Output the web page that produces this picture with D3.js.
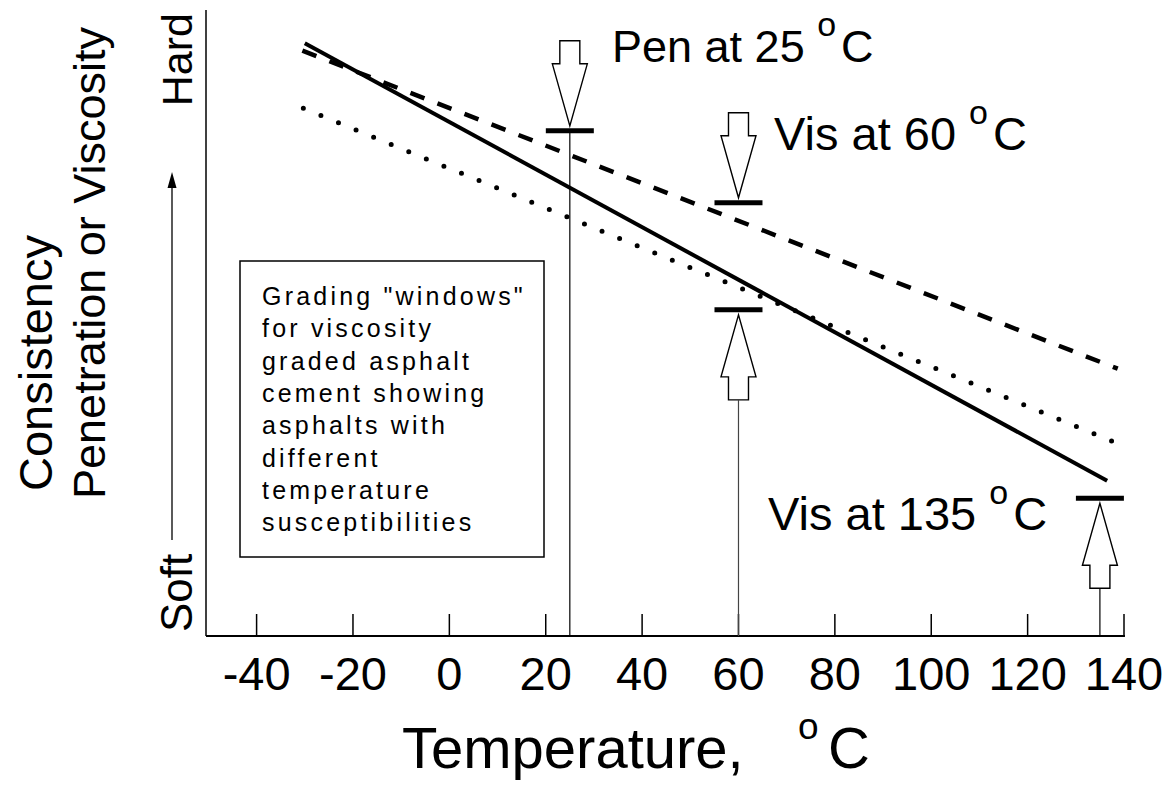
<!DOCTYPE html>
<html>
<head>
<meta charset="utf-8">
<script src="https://cdn.jsdelivr.net/npm/d3@7"></script>
<style>
  html, body { margin: 0; padding: 0; background: #fff; }
  svg { display: block; }
  text { font-family: "Liberation Sans", Arial, Helvetica, sans-serif; fill: #000; }
</style>
</head>
<body>
<svg id="chart" width="1170" height="787"></svg>
<script>
// ---------- data ----------
const xTicks = [-40, -20, 0, 20, 40, 60, 80, 100, 120, 140];
const xTickLabels = ["-40", "-20", "0", "20", "40", "60", "80", "100", "120", "140"];

// Three asphalts with different temperature susceptibilities (consistency, arbitrary units 0-100)
const solidTemps = [-30, 136.5];
const solidCons = [94.7, 24.8];
const dashedTemps = [-30.5, 138.7];
const dashedCons = [93.5, 42.7];
const dottedTemps = [-30.3, 139.5];
const dottedCons = [84.3, 30.5];

// Grading window markers
const markerTemps = [25, 60, 60, 135];
const markerCons = [80.7, 69.2, 52.1, 22.0];
const markerDirs = ["down", "down", "up", "up"];
const markerDrop = [true, false, true, true];

const boxLines = [
  'Grading "windows"',
  "for viscosity",
  "graded asphalt",
  "cement showing",
  "asphalts with",
  "different",
  "temperature",
  "susceptibilities"
];

// ---------- layout ----------
const svg = d3.select("#chart");
const x = d3.scaleLinear().domain([-50.5, 140]).range([206, 1124]);
const y = d3.scaleLinear().domain([0, 100]).range([636, 10]);
const axisY = y(0);

// axes
const axisG = svg.append("g");
axisG.append("line").attr("x1", x(-50.5)).attr("x2", x(140.2))
  .attr("y1", axisY).attr("y2", axisY).attr("stroke", "#000").attr("stroke-width", 2);
axisG.append("line").attr("x1", x(-50.5)).attr("x2", x(-50.5))
  .attr("y1", y(100)).attr("y2", axisY).attr("stroke", "#000").attr("stroke-width", 1.5);

axisG.selectAll(".tick").data(xTicks).join("line")
  .attr("x1", d => x(d)).attr("x2", d => x(d))
  .attr("y1", axisY).attr("y2", axisY - 22)
  .attr("stroke", "#000").attr("stroke-width", 1.5);

axisG.selectAll(".tl").data(xTicks).join("text")
  .attr("x", d => x(d)).attr("y", 690)
  .attr("text-anchor", "middle").attr("font-size", 47)
  .text((d, i) => xTickLabels[i]);

// x-axis title
const xt = svg.append("text").attr("x", 402).attr("y", 768).attr("font-size", 58);
xt.append("tspan").text("Temperature,");
xt.append("tspan").attr("x", 798).attr("dy", -29).attr("font-size", 37).text("o");
xt.append("tspan").attr("x", 828).attr("dy", 29).text("C");

// y-axis titles (rotated)
svg.append("text").attr("transform", "translate(52,363) rotate(-90)")
  .attr("text-anchor", "middle").attr("font-size", 47).text("Consistency");
svg.append("text").attr("transform", "translate(105,263) rotate(-90)")
  .attr("text-anchor", "middle").attr("font-size", 45).text("Penetration or Viscosity");
svg.append("text").attr("transform", "translate(192,632) rotate(-90)")
  .attr("text-anchor", "start").attr("font-size", 44).text("Soft");
svg.append("text").attr("transform", "translate(192,13) rotate(-90)")
  .attr("text-anchor", "end").attr("font-size", 43).text("Hard");
svg.append("line").attr("x1", 172).attr("x2", 172).attr("y1", 540).attr("y2", 185)
  .attr("stroke", "#000").attr("stroke-width", 1.3);
svg.append("path").attr("d", "M172,172 L167.5,188 L176.5,188 Z").attr("fill", "#000");

// ---------- lines ----------
const line = d3.line().x(d => x(d[0])).y(d => y(d[1]));
const series = [
  { t: solidTemps, c: solidCons, dash: null, w: 4, cap: "butt" },
  { t: dashedTemps, c: dashedCons, dash: "15,14", w: 4.5, cap: "butt" },
  { t: dottedTemps, c: dottedCons, dash: "0,19", w: 5, cap: "round" }
];
svg.selectAll(".series").data(series).join("path")
  .attr("d", s => line(s.t.map((t, i) => [t, s.c[i]])))
  .attr("fill", "none").attr("stroke", "#000")
  .attr("stroke-width", s => s.w)
  .attr("stroke-linecap", s => s.cap)
  .attr("stroke-dasharray", s => s.dash);

// ---------- markers ----------
function arrowPath(cx, tipY, dir) {
  const s = dir === "down" ? -1 : 1;   // body extends up for down arrow
  const head = 62, shaft = 23, hw = 17.5, sw = 10;
  const hb = tipY + s * head, st = hb + s * shaft;
  return `M${cx},${tipY} L${cx - hw},${hb} L${cx - sw},${hb} L${cx - sw},${st} ` +
         `L${cx + sw},${st} L${cx + sw},${hb} L${cx + hw},${hb} Z`;
}
markerTemps.forEach((t, i) => {
  const cx = x(t), by = y(markerCons[i]);
  const dir = markerDirs[i];
  const tipY = dir === "down" ? by - 5 : by + 5;
  svg.append("path").attr("d", arrowPath(cx, tipY, dir))
    .attr("fill", "#fff").attr("stroke", "#000").attr("stroke-width", 1.4)
    .attr("stroke-linejoin", "miter");
  if (markerDrop[i]) {
    const startY = dir === "down" ? by : tipY + 85;
    svg.append("line").attr("x1", cx).attr("x2", cx).attr("y1", startY).attr("y2", axisY)
      .attr("stroke", i === 1 || i === 2 ? "#444" : "#000").attr("stroke-width", 1.2);
  }
  svg.append("line").attr("x1", cx - 24).attr("x2", cx + 24).attr("y1", by).attr("y2", by)
    .attr("stroke", "#000").attr("stroke-width", 5);
});

// marker labels
function supLabel(xp, yp, main, tail, fs) {
  const t = svg.append("text").attr("x", xp).attr("y", yp).attr("font-size", fs);
  t.append("tspan").text(main + " ");
  t.append("tspan").attr("dy", -26).attr("font-size", 34).text("o");
  t.append("tspan").attr("dy", 26).attr("dx", 5).text(tail);
}
supLabel(612, 62, "Pen at 25", "C", 45);
supLabel(774, 150, "Vis at 60", "C", 47);
supLabel(768, 530, "Vis at 135", "C", 47);

// ---------- text box ----------
svg.append("rect").attr("x", 240).attr("y", 261).attr("width", 304).attr("height", 296)
  .attr("fill", "none").attr("stroke", "#000").attr("stroke-width", 1.5);
svg.selectAll(".boxline").data(boxLines).join("text")
  .attr("x", 262).attr("y", (d, i) => 305 + i * 32.3)
  .attr("font-size", 25).attr("letter-spacing", 3.2)
  .text(d => d);
</script>
</body>
</html>
